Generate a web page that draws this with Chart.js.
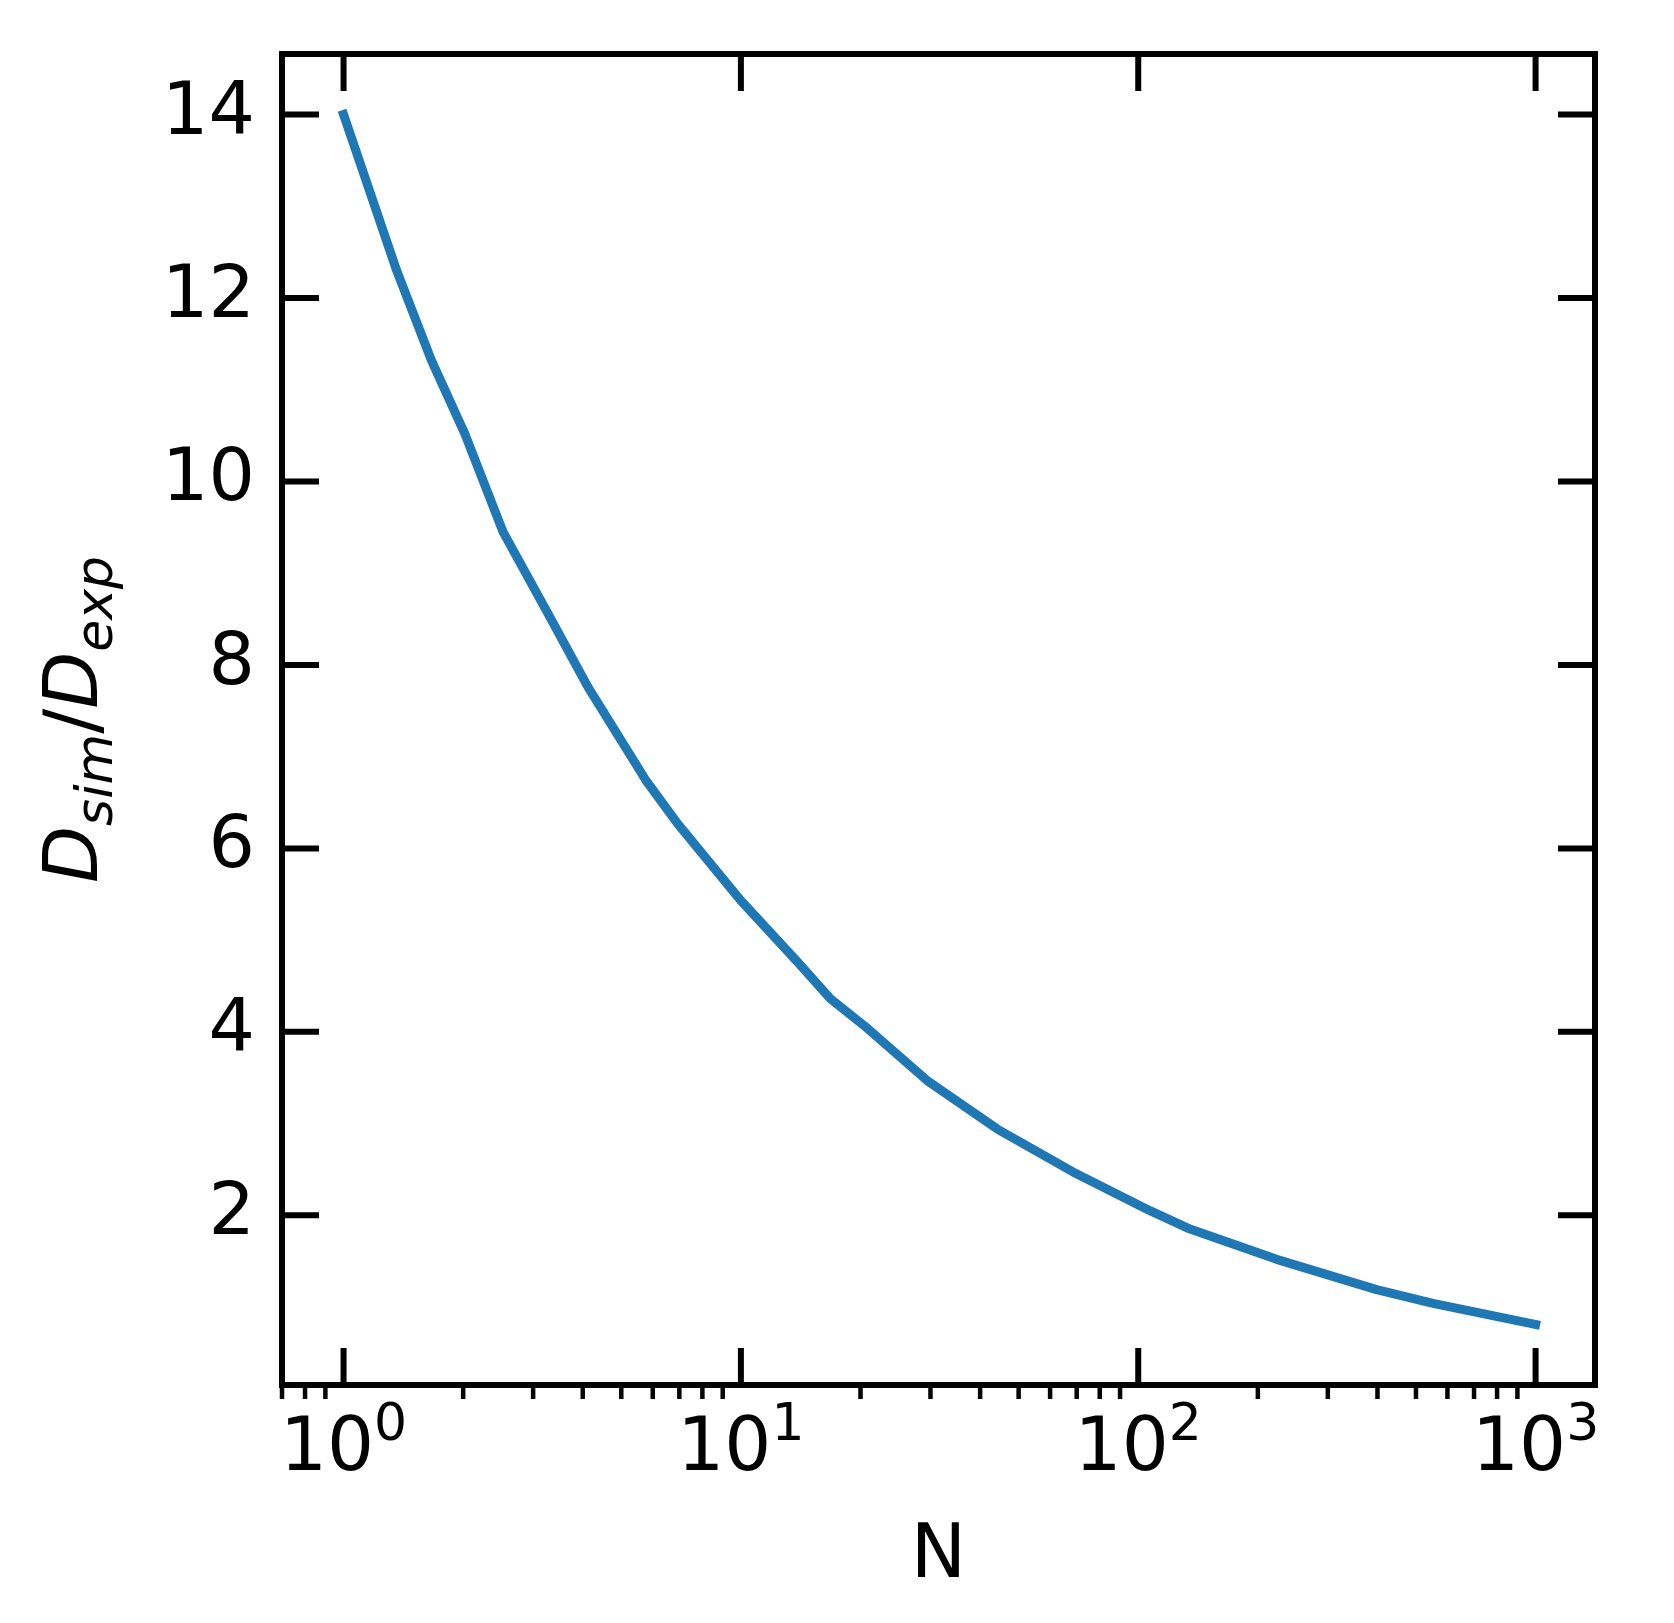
<!DOCTYPE html>
<html>
<head>
<meta charset="utf-8">
<script src="https://cdn.jsdelivr.net/npm/chart.js@4.4.1/dist/chart.umd.min.js"></script>
<style>
html,body{margin:0;padding:0;background:#ffffff;}
#wrap{width:1674px;height:1623px;position:relative;}
canvas{display:block;}
</style>
</head>
<body>
<div id="wrap"><canvas id="c" width="1674" height="1623" style="width:1674px;height:1623px"></canvas></div>
<script>
// ---- data ----
const N_VALUES = [1, 1.131, 1.36, 1.664, 2.02, 2.52, 3.27, 4.12, 5.77, 6.93, 10, 13.9, 16.8, 20.4, 29.4, 44.2, 68.7, 107, 135, 223, 398, 552, 1000];
const D_RATIO  = [14.0, 13.32, 12.30, 11.32, 10.52, 9.45, 8.56, 7.76, 6.74, 6.27, 5.43, 4.76, 4.36, 4.07, 3.47, 2.94, 2.47, 2.05, 1.85, 1.52, 1.19, 1.04, 0.81];

// ---- ticks / labels ----
const Y_TICKS = [2, 4, 6, 8, 10, 12, 14];
const X_MAJOR_TICKS = [1, 10, 100, 1000];
const X_TICK_BASE = ['10', '10', '10', '10'];
const X_TICK_EXP = ['0', '1', '2', '3'];
const X_TITLE = 'N';
// y title: [text, isSubscript]
const Y_TITLE_PARTS = [['D', false], ['sim', true], ['/', false], ['D', false], ['exp', true]];

const X_MIN = 0.7085, X_MAX = 1411;
const Y_MIN = 0.15, Y_MAX = 14.66;

const FONT = '"DejaVu Sans", "Liberation Sans", sans-serif';

function minorTicks() {
  const out = [];
  for (let e = -1; e <= 3; e++) {
    for (let m = 2; m <= 9; m++) {
      const v = m * Math.pow(10, e);
      if (v >= 0.69 && v <= X_MAX) out.push(v);
    }
  }
  return out;
}

const framePlugin = {
  id: 'framePlugin',
  afterDraw(chart) {
    const ctx = chart.ctx;
    const {left, right, top, bottom} = chart.chartArea;
    const xs = chart.scales.x, ys = chart.scales.y;
    const seg = (x1, y1, x2, y2) => { ctx.beginPath(); ctx.moveTo(x1, y1); ctx.lineTo(x2, y2); ctx.stroke(); };
    ctx.save();
    ctx.strokeStyle = '#000';
    ctx.lineCap = 'butt';
    ctx.lineWidth = 6;
    const TL = 37;
    X_MAJOR_TICKS.forEach(v => {
      const px = xs.getPixelForValue(v);
      seg(px, bottom, px, bottom - TL);
      seg(px, top, px, top + TL);
    });
    Y_TICKS.forEach(v => {
      const py = ys.getPixelForValue(v);
      seg(left, py, left + TL, py);
      seg(right, py, right - TL, py);
    });
    ctx.lineWidth = 4.5;
    minorTicks().forEach(v => {
      const px = xs.getPixelForValue(v);
      seg(px, bottom, px, bottom + 14);
    });
    ctx.lineWidth = 6;
    ctx.lineJoin = 'miter';
    ctx.strokeRect(left, top, right - left, bottom - top);

    ctx.fillStyle = '#000';
    ctx.textBaseline = 'alphabetic';
    ctx.textAlign = 'left';
    const mainFont = '74px ' + FONT;
    const supFont = '52px ' + FONT;
    X_MAJOR_TICKS.forEach((v, i) => {
      const px = xs.getPixelForValue(v);
      ctx.font = mainFont;
      const w1 = ctx.measureText(X_TICK_BASE[i]).width;
      ctx.font = supFont;
      const w2 = ctx.measureText(X_TICK_EXP[i]).width;
      const x0 = px - (w1 + w2) / 2;
      const base = bottom + 85;
      ctx.font = mainFont;
      ctx.fillText(X_TICK_BASE[i], x0, base);
      ctx.font = supFont;
      ctx.fillText(X_TICK_EXP[i], x0 + w1, base - 30);
    });

    ctx.font = '74px ' + FONT;
    ctx.textAlign = 'center';
    ctx.fillText(X_TITLE, (left + right) / 2, bottom + 192);

    const fontFor = (t, sub) => {
      if (t === '/') return '74px ' + FONT;
      return 'italic ' + (sub ? '52px ' : '74px ') + FONT;
    };
    let total = 0;
    const widths = Y_TITLE_PARTS.map(([t, sub]) => {
      ctx.font = fontFor(t, sub);
      const w = ctx.measureText(t).width;
      total += w;
      return w;
    });
    ctx.save();
    ctx.translate(97, (top + bottom) / 2);
    ctx.rotate(-Math.PI / 2);
    ctx.textAlign = 'left';
    let cx = -total / 2;
    Y_TITLE_PARTS.forEach(([t, sub], i) => {
      ctx.font = fontFor(t, sub);
      ctx.fillText(t, cx, sub ? 15 : 0);
      cx += widths[i];
    });
    ctx.restore();
    ctx.restore();
  }
};

function zeroPad(s) { s.paddingTop = 0; s.paddingBottom = 0; s.paddingLeft = 0; s.paddingRight = 0; }

new Chart(document.getElementById('c'), {
  type: 'line',
  data: {
    datasets: [{
      data: N_VALUES.map((n, i) => ({x: n, y: D_RATIO[i]})),
      borderColor: '#1f77b4',
      backgroundColor: '#1f77b4',
      borderWidth: 9,
      pointRadius: 0,
      tension: 0,
      fill: false,
      borderCapStyle: 'square',
      borderJoinStyle: 'round'
    }]
  },
  options: {
    responsive: false,
    animation: false,
    devicePixelRatio: 1,
    layout: {padding: {top: 54, right: 79, left: 0, bottom: 0}},
    plugins: {legend: {display: false}, tooltip: {enabled: false}},
    scales: {
      x: {
        type: 'logarithmic',
        min: X_MIN,
        max: X_MAX,
        grid: {display: false, drawTicks: false},
        border: {display: false},
        ticks: {display: false},
        afterFit(s) { s.height = 238; zeroPad(s); }
      },
      y: {
        type: 'linear',
        min: Y_MIN,
        max: Y_MAX,
        grid: {display: false, drawTicks: false},
        border: {display: false},
        afterBuildTicks(s) { s.ticks = Y_TICKS.map(v => ({value: v})); },
        ticks: {
          padding: 27,
          color: '#000',
          font: {family: FONT, size: 73},
          callback: v => String(v)
        },
        afterFit(s) { s.width = 282; zeroPad(s); }
      }
    }
  },
  plugins: [framePlugin]
});
</script>
</body>
</html>
